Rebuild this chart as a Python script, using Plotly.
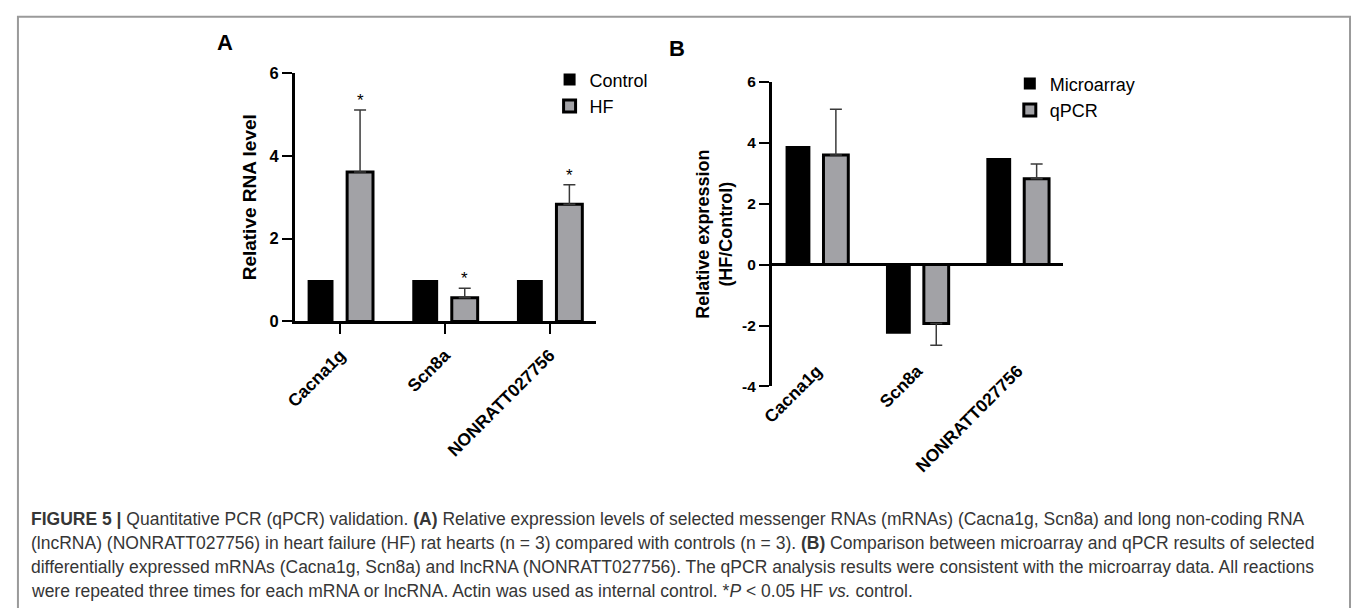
import plotly.graph_objects as go

# ---------------- data ----------------
categories = ["Cacna1g", "Scn8a", "NONRATT027756"]

a_control = [1.0, 1.0, 1.0]
a_hf = [3.61, 0.57, 2.83]
a_hf_err = [1.50, 0.23, 0.47]

b_micro = [3.89, -2.27, 3.50]
b_qpcr = [3.60, -1.93, 2.82]
b_qpcr_err = [1.50, 0.72, 0.48]

a_yticks = [0, 2, 4, 6]
b_yticks = [-4, -2, 0, 2, 4, 6]

caption_lines = [
    "<b>FIGURE 5 |</b> Quantitative PCR (qPCR) validation. <b>(A)</b> Relative expression levels of selected messenger RNAs (mRNAs) (Cacna1g, Scn8a) and long non-coding RNA",
    "(lncRNA) (NONRATT027756) in heart failure (HF) rat hearts (n = 3) compared with controls (n = 3). <b>(B)</b> Comparison between microarray and qPCR results of selected",
    "differentially expressed mRNAs (Cacna1g, Scn8a) and lncRNA (NONRATT027756). The qPCR analysis results were consistent with the microarray data. All reactions",
    "were repeated three times for each mRNA or lncRNA. Actin was used as internal control. *<i>P</i> &lt; 0.05 HF <i>vs.</i> control.",
]

# ---------------- styling ----------------
W, H = 1352, 608
FONT = "Liberation Sans, Arial, Helvetica, sans-serif"
GRAY = "#a2a2a6"
ERRC = "#3a3a3a"


def px_x(p):
    return p / W


def px_y(p):
    return 1 - p / H


def err_up(vals, errs):
    return [e if v >= 0 else 0 for v, e in zip(vals, errs)]


def err_down(vals, errs):
    return [e if v < 0 else 0 for v, e in zip(vals, errs)]


fig = go.Figure()

# Panel A
fig.add_trace(go.Bar(
    x=categories, y=a_control, name="Control", xaxis="x", yaxis="y",
    marker=dict(color="black", line=dict(color="black", width=0)),
    legend="legend",
))
fig.add_trace(go.Bar(
    x=categories, y=a_hf, name="HF", xaxis="x", yaxis="y",
    marker=dict(color=GRAY, line=dict(color="black", width=3)),
    error_y=dict(type="data", symmetric=False, array=err_up(a_hf, a_hf_err),
                 arrayminus=err_down(a_hf, a_hf_err), color=ERRC, thickness=1.5, width=6),
    legend="legend",
))

# Panel B
fig.add_trace(go.Bar(
    x=categories, y=b_micro, name="Microarray", xaxis="x2", yaxis="y2",
    marker=dict(color="black", line=dict(color="black", width=0)),
    legend="legend2",
))
fig.add_trace(go.Bar(
    x=categories, y=b_qpcr, name="qPCR", xaxis="x2", yaxis="y2",
    marker=dict(color=GRAY, line=dict(color="black", width=3)),
    error_y=dict(type="data", symmetric=False, array=err_up(b_qpcr, b_qpcr_err),
                 arrayminus=err_down(b_qpcr, b_qpcr_err), color=ERRC, thickness=1.5, width=6),
    legend="legend2",
))

xtickfont = dict(family=FONT, size=17.5, color="black", weight="bold")

fig.update_layout(
    width=W, height=H,
    margin=dict(l=0, r=0, t=0, b=0),
    paper_bgcolor="white", plot_bgcolor="white",
    barmode="group", bargap=0.245, bargroupgap=0.345,
    font=dict(family=FONT, color="black"),
    xaxis=dict(
        domain=[px_x(286), px_x(590)], anchor="y", range=[-0.436, 2.445],
        showline=True, linecolor="black", linewidth=2.5,
        ticks="outside", ticklen=10, tickwidth=2, tickcolor="black",
        tickangle=-45, tickfont=xtickfont, ticklabelstandoff=4,
        showgrid=False, zeroline=False,
    ),
    yaxis=dict(
        domain=[px_y(322), px_y(66)], anchor="x", range=[0, 6],
        showline=True, linecolor="black", linewidth=2.5,
        ticks="outside", ticklen=10, tickwidth=2, tickcolor="black",
        tickvals=a_yticks, ticktext=[str(v) for v in a_yticks],
        tickfont=dict(family=FONT, size=16.5, color="black", weight="bold"),
        showgrid=False, zeroline=False,
        title=dict(text="Relative RNA level", font=dict(family=FONT, size=19, weight="bold"), standoff=8),
    ),
    xaxis2=dict(
        domain=[px_x(767), px_x(1061)], anchor="free", position=px_y(358), range=[-0.45, 2.455],
        showline=False, ticks="", tickangle=-45, tickfont=xtickfont,
        showgrid=False, zeroline=False,
    ),
    yaxis2=dict(
        domain=[px_y(389), px_y(75)], anchor="x2", range=[-4, 6],
        showline=True, linecolor="black", linewidth=2.5,
        ticks="outside", ticklen=10, tickwidth=2, tickcolor="black",
        tickvals=b_yticks, ticktext=[str(v) for v in b_yticks],
        tickfont=dict(family=FONT, size=15.5, color="black", weight="bold"),
        showgrid=False, zeroline=True, zerolinecolor="black", zerolinewidth=2.5,
        title=dict(text="Relative expression<br>(HF/Control)", font=dict(family=FONT, size=18, weight="bold"), standoff=5),
    ),
    legend=dict(
        x=px_x(543), y=px_y(54), xanchor="left", yanchor="top",
        font=dict(family=FONT, size=18, color="black"), bgcolor="rgba(0,0,0,0)",
        tracegroupgap=0, itemwidth=30,
    ),
    legend2=dict(
        x=px_x(1007), y=px_y(58), xanchor="left", yanchor="top",
        font=dict(family=FONT, size=18, color="black"), bgcolor="rgba(0,0,0,0)",
        tracegroupgap=0, itemwidth=30,
    ),
)

annotations = []
# significance stars above HF error bars
for c, v, e in zip(categories, a_hf, a_hf_err):
    annotations.append(dict(
        x=c, y=v + e, xref="x", yref="y", text="*", showarrow=False,
        xshift=20, yshift=-2, yanchor="bottom",
        font=dict(family=FONT, size=17, color="black"),
    ))

# panel letters
annotations.append(dict(x=px_x(206), y=px_y(35), xref="paper", yref="paper", text="<b>A</b>",
                        showarrow=False, xanchor="left", yanchor="middle",
                        font=dict(family=FONT, size=22, color="black")))
annotations.append(dict(x=px_x(661), y=px_y(41), xref="paper", yref="paper", text="<b>B</b>",
                        showarrow=False, xanchor="left", yanchor="middle",
                        font=dict(family=FONT, size=22, color="black")))

# caption
cap_y = [526, 550.5, 575, 599.5]
for line, yy in zip(caption_lines, cap_y):
    annotations.append(dict(
        x=px_x(18), y=px_y(yy), xref="paper", yref="paper", text=line,
        showarrow=False, xanchor="left", yanchor="middle", align="left",
        font=dict(family=FONT, size=17.5, color="#363636"),
    ))

fig.update_layout(annotations=annotations)

# outer frame
fig.add_shape(type="rect", xref="paper", yref="paper",
              x0=px_x(7), x1=px_x(1350), y0=-0.2, y1=px_y(8),
              line=dict(color="#9a9a9a", width=2), fillcolor="rgba(0,0,0,0)", layer="below")

fig.write_html("out.html")
